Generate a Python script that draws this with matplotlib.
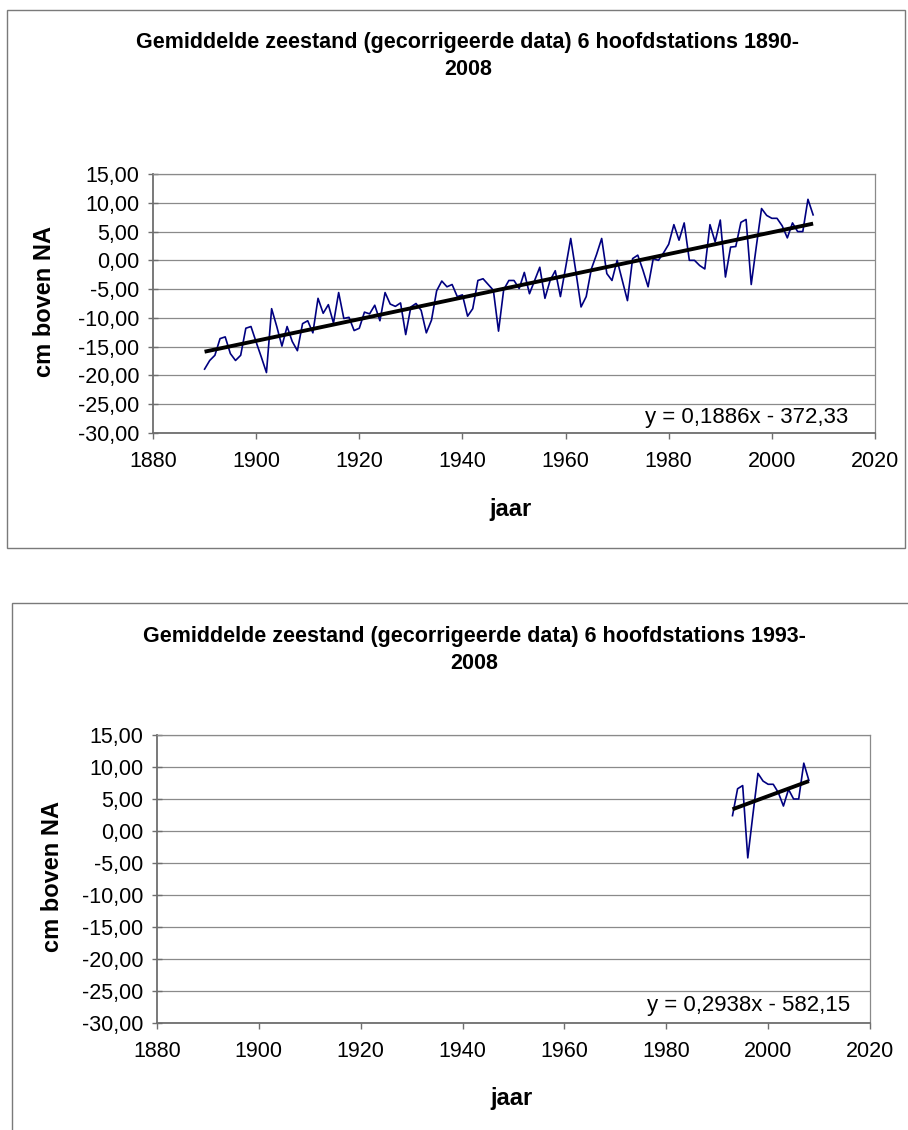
import matplotlib
matplotlib.use("Agg")
import matplotlib.pyplot as plt
from matplotlib.ticker import FuncFormatter
from matplotlib.patches import Rectangle
import numpy as np

plt.rcParams['font.family'] = ['Liberation Sans', 'DejaVu Sans']

# jaargemiddelden 6 hoofdstations, cm t.o.v. NAP
jaren = np.arange(1890, 2009)
zeestand = [
    -18.9, -17.4, -16.5, -13.6, -13.3, -16.2, -17.4, -16.5, -11.8, -11.5,   # 1890-1899
    -14.2, -16.8, -19.5, -8.4, -11.5, -14.9, -11.5, -14.1, -15.7, -11.0,    # 1900-1909
    -10.5, -12.6, -6.6, -9.2, -7.7, -10.9, -5.6, -10.1, -9.9, -12.2,        # 1910-1919
    -11.8, -9.0, -9.3, -7.8, -10.5, -5.6, -7.6, -8.0, -7.4, -12.9,          # 1920-1929
    -8.1, -7.5, -8.7, -12.6, -10.4, -5.3, -3.6, -4.6, -4.2, -6.3,           # 1930-1939
    -6.0, -9.7, -8.4, -3.5, -3.2, -4.2, -5.2, -12.3, -5.1, -3.5,            # 1940-1949
    -3.5, -4.9, -2.1, -5.8, -3.5, -1.2, -6.6, -3.5, -1.8, -6.3,             # 1950-1959
    -1.3, 3.8, -2.0, -8.1, -6.3, -1.5, 1.0, 3.8, -2.3, -3.5,                # 1960-1969
    0.0, -3.5, -7.0, 0.3, 0.9, -1.7, -4.6, 0.3, 0.0, 1.3,                   # 1970-1979
    2.8, 6.2, 3.5, 6.5, 0.0, 0.0, -0.9, -1.5, 6.2, 3.2,                     # 1980-1989
    7.0, -2.9, 2.3, 2.4, 6.6, 7.1, -4.2, 2.5, 9.0, 7.8,                     # 1990-1999
    7.3, 7.3, 6.0, 3.9, 6.5, 5.0, 5.0, 10.6, 7.9,                           # 2000-2008
]
zeestand = np.array(zeestand)

# trendlijnen zoals door Excel berekend: (helling, snijpunt)
trend_lang = (0.1886, -372.33)
trend_kort = (0.2938, -582.15)

x_ticks = list(range(1880, 2021, 20))
y_ticks = list(range(-30, 16, 5))

W, H = 908, 1130
fig = plt.figure(figsize=(W / 100, H / 100), dpi=100)
fig.patch.set_facecolor('white')


def fx(x):
    return x / W


def fy(y):
    return 1 - y / H


def komma(v, pos):
    return f"{v:.2f}".replace('.', ',')


def paneel(box, jr, zs, coef, titel, titel_xy, ylab_xy, xlab_xy, eq_xy):
    left, top, right, bottom = box
    ax = fig.add_axes([fx(left), fy(bottom), fx(right - left), (bottom - top) / H])
    ax.plot(jr, zs, color='#000080', lw=1.2, zorder=3)
    a, b = coef
    xs = np.array([jr[0], jr[-1]])
    ax.plot(xs, a * xs + b, color='black', lw=2.8, solid_capstyle='butt', zorder=4)

    ax.set_xlim(1880, 2020)
    ax.set_ylim(-30, 15)
    ax.set_xticks(x_ticks)
    ax.set_yticks(y_ticks)
    ax.yaxis.set_major_formatter(FuncFormatter(komma))
    ax.yaxis.grid(True, color='#8a8a8a', lw=0.9)
    ax.set_axisbelow(True)
    for s in ['left', 'bottom']:
        ax.spines[s].set_color('#6e6e6e')
        ax.spines[s].set_linewidth(1.3)
    for s in ['top', 'right']:
        ax.spines[s].set_color('#8a8a8a')
        ax.spines[s].set_linewidth(0.9)
    ax.tick_params(axis='y', direction='inout', length=7, width=1, color='#6e6e6e',
                   labelsize=15.5, pad=6.5)
    ax.tick_params(axis='x', direction='out', length=4, width=1, color='#6e6e6e',
                   labelsize=15.5, pad=9)

    teken = '-' if b < 0 else '+'
    vergelijking = f"y = {a:.4f}x {teken} {abs(b):.2f}".replace('.', ',')
    fig.text(fx(eq_xy[0]), fy(eq_xy[1]), vergelijking, ha='right', va='center', fontsize=16)

    fig.text(fx(titel_xy[0]), fy(titel_xy[1]), titel, ha='center', va='center',
             fontsize=15.5, fontweight='bold', linespacing=1.35, multialignment='center')
    fig.text(fx(ylab_xy[0]), fy(ylab_xy[1]), 'cm boven NA', rotation=90, ha='center',
             va='center', fontsize=17, fontweight='bold')
    fig.text(fx(xlab_xy[0]), fy(xlab_xy[1]), 'jaar', ha='center', va='center',
             fontsize=17, fontweight='bold')
    return ax


# kaders om de grafieken
fig.add_artist(Rectangle((fx(7), fy(548)), fx(905 - 7), (548 - 10) / H, transform=fig.transFigure,
                         fill=False, edgecolor='#7a7a7a', lw=1.0))
fig.add_artist(Rectangle((fx(12), fy(1140)), fx(920 - 12), (1140 - 603) / H,
                         transform=fig.transFigure, fill=False, edgecolor='#7a7a7a', lw=1.0))

paneel((153, 174, 875, 433), jaren, zeestand, trend_lang,
       "Gemiddelde zeestand (gecorrigeerde data) 6 hoofdstations 1890-\n2008",
       (468, 56), (45, 302), (510, 509), (848, 417))

kort = jaren >= 1993
paneel((157, 735, 870, 1023), jaren[kort], zeestand[kort], trend_kort,
       "Gemiddelde zeestand (gecorrigeerde data) 6 hoofdstations 1993-\n2008",
       (474, 650), (53, 877), (512, 1098), (850, 1005))

fig.savefig('out.png', dpi=100)
